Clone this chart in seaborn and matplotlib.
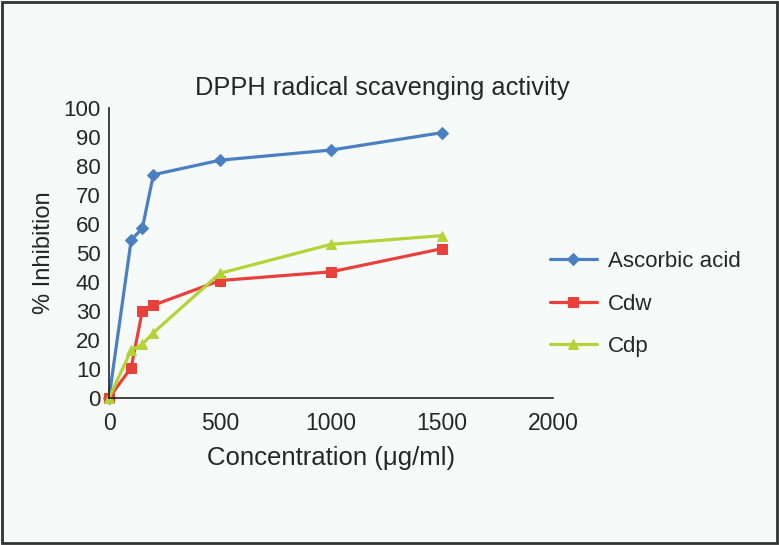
import matplotlib
matplotlib.use("Agg")
import matplotlib.pyplot as plt
import seaborn as sns
import pandas as pd
from matplotlib.patches import Rectangle

conc = [0, 100, 150, 200, 500, 1000, 1500]
ascorbic = [0, 54.5, 58.5, 77, 82, 85.5, 91.5]
cdw = [0, 10.5, 30, 32, 40.5, 43.5, 51.5]
cdp = [0, 16.5, 18.5, 22.5, 43, 53, 56]
series_names = ["Ascorbic acid", "Cdw", "Cdp"]
x_ticks = [0, 500, 1000, 1500, 2000]
y_ticks = list(range(0, 101, 10))

rows = []
for name, vals in zip(series_names, [ascorbic, cdw, cdp]):
    for c, v in zip(conc, vals):
        rows.append({"Concentration": c, "Inhibition": v, "Series": name})
df = pd.DataFrame(rows)

sns.set_style("white")
plt.rcParams["font.family"] = ["Liberation Sans", "DejaVu Sans"]

bg = "#f6fbf9"
fig = plt.figure(figsize=(7.79, 5.45), dpi=100, facecolor=bg)
ax = fig.add_axes([109 / 779, 1 - 398 / 545, (553 - 109) / 779, (398 - 108) / 545])
ax.set_facecolor(bg)

palette = {"Ascorbic acid": "#4a7fc1", "Cdw": "#e8413c", "Cdp": "#b4d337"}
markers = {"Ascorbic acid": "D", "Cdw": "s", "Cdp": "^"}
sizes = {"Ascorbic acid": 9, "Cdw": 11, "Cdp": 10.5}

for name in series_names:
    sub = df[df["Series"] == name]
    sns.lineplot(data=sub, x="Concentration", y="Inhibition", ax=ax,
                 color=palette[name], marker=markers[name],
                 markersize=sizes[name], markeredgecolor=palette[name],
                 linewidth=2.3, label=name, legend=False)

ax.set_xlim(0, 2000)
ax.set_ylim(0, 100)
ax.set_xticks(x_ticks)
ax.set_yticks(y_ticks)
ax.tick_params(axis="y", length=0, labelsize=16, pad=6)
ax.tick_params(axis="x", length=0, labelsize=16.5, pad=10)
for s in ["top", "right"]:
    ax.spines[s].set_visible(False)
for s in ["left", "bottom"]:
    ax.spines[s].set_color("#222222")
    ax.spines[s].set_linewidth(1.2)
ax.set_xlabel("Concentration (\u03bcg/ml)", fontsize=18.5, labelpad=8)
ax.set_ylabel("% Inhibition", fontsize=17, labelpad=6)
ax.set_title("DPPH radical scavenging activity", fontsize=18.3, pad=9.5, x=0.616)
for l in ax.get_lines():
    l.set_clip_on(False)

h, lab = ax.get_legend_handles_labels()
for hh, name in zip(h, lab):
    hh.set_markersize(sizes[name] * 0.7)
leg = fig.legend(h, lab, loc="upper left", bbox_to_anchor=(550 / 779, 1 - 251 / 545),
                 frameon=False, fontsize=16, labelspacing=0.97, handlelength=2.1,
                 handletextpad=0.5, borderpad=0, borderaxespad=0)

fig.add_artist(Rectangle((0.002, 0.003), 0.996, 0.994, transform=fig.transFigure,
                         fill=False, edgecolor="#333333", linewidth=2))

fig.savefig("out.png", dpi=100, facecolor=bg)
